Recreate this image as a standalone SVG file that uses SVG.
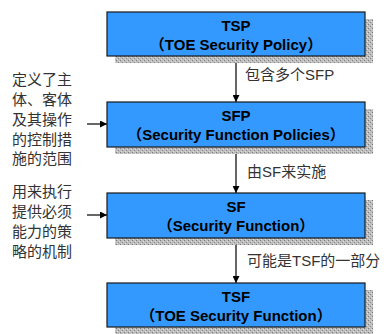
<svg xmlns="http://www.w3.org/2000/svg" width="388" height="334" viewBox="0 0 388 334">
<style>
.box{fill:#3399ff;stroke:#1a1a1a;stroke-width:1.2}
.sh{fill:url(#tex)}
.t{font-family:"Liberation Sans","Noto Sans CJK SC",sans-serif;font-weight:bold;font-size:15px;fill:#000;text-anchor:middle}
.lb{font-family:"Liberation Sans","Noto Sans CJK SC",sans-serif;font-size:15px;fill:#333}
.side{font-family:"Noto Sans CJK SC",sans-serif;font-size:15px;fill:#333}
.ln{stroke:#000;stroke-width:1.2;fill:none;marker-end:url(#ah)}
</style>
<defs>
<pattern id="tex" width="4" height="4" patternUnits="userSpaceOnUse">
<rect width="4" height="4" fill="#bdbdbd"/>
<rect x="0" y="0" width="1" height="1" fill="#7a7a7a"/>
<rect x="2" y="2" width="1" height="1" fill="#8a8a8a"/>
<rect x="1" y="3" width="1" height="1" fill="#e0e0e0"/>
<rect x="3" y="1" width="1" height="1" fill="#e0e0e0"/>
</pattern>
<marker id="ah" viewBox="0 0 10 10" refX="10" refY="5" markerWidth="7" markerHeight="7" markerUnits="userSpaceOnUse" orient="auto">
<path d="M0,0 L10,5 L0,10 z" fill="#000"/>
</marker>
</defs>

<g id="connectors">
<line class="ln" x1="236" y1="56" x2="236" y2="102"/>
<line class="ln" x1="236" y1="147" x2="236" y2="193"/>
<line class="ln" x1="236" y1="238" x2="236" y2="283"/>
<line class="ln" x1="87" y1="124" x2="107" y2="124"/>
<line class="ln" x1="87" y1="215" x2="107" y2="215"/>
<text class="lb" x="245" y="80">包含多个SFP</text>
<text class="lb" x="247" y="177">由SF来实施</text>
<text class="lb" x="247" y="266">可能是TSF的一部分</text>
</g>

<g id="tsp">
<rect class="sh" x="115" y="19" width="258" height="44"/>
<rect class="box" x="107" y="12" width="258" height="44"/>
<text class="t" x="236" y="31">TSP</text>
<text class="t" x="236" y="50">（TOE Security Policy）</text>
</g>

<g id="sfp">
<rect class="sh" x="115" y="109" width="258" height="45"/>
<rect class="box" x="107" y="102" width="258" height="45"/>
<text class="t" x="236" y="121">SFP</text>
<text class="t" x="236" y="140">（Security Function Policies）</text>
</g>

<g id="sf">
<rect class="sh" x="115" y="200" width="258" height="45"/>
<rect class="box" x="107" y="193" width="258" height="45"/>
<text class="t" x="236" y="212">SF</text>
<text class="t" x="236" y="231">（Security Function）</text>
</g>

<g id="tsf">
<rect class="sh" x="115" y="290" width="258" height="44"/>
<rect class="box" x="107" y="283" width="258" height="44"/>
<text class="t" x="236" y="302">TSF</text>
<text class="t" x="236" y="321">（TOE Security Function）</text>
</g>

<g id="note1">
<text class="side" x="12" y="85">定义了主</text>
<text class="side" x="12" y="105">体、客体</text>
<text class="side" x="12" y="125">及其操作</text>
<text class="side" x="12" y="145">的控制措</text>
<text class="side" x="12" y="164">施的范围</text>
</g>

<g id="note2">
<text class="side" x="12" y="197">用来执行</text>
<text class="side" x="12" y="217">提供必须</text>
<text class="side" x="12" y="237">能力的策</text>
<text class="side" x="12" y="257">略的机制</text>
</g>
</svg>
